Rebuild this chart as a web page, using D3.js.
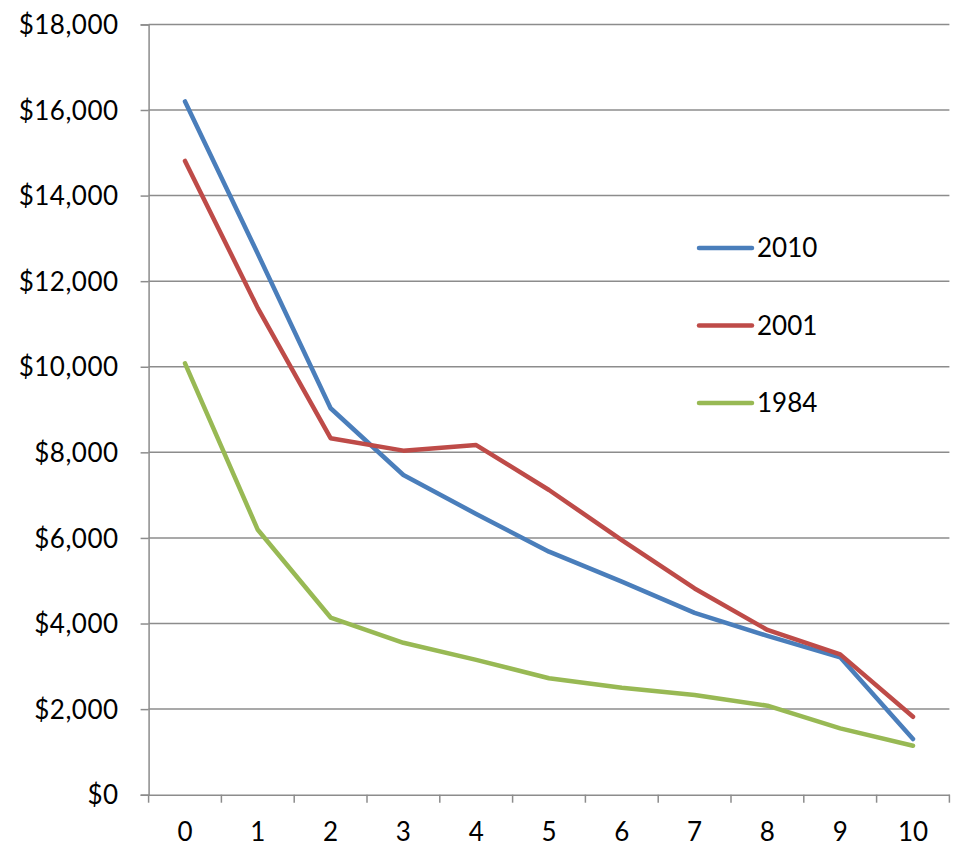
<!DOCTYPE html>
<html>
<head>
<meta charset="utf-8">
<script src="https://cdn.jsdelivr.net/npm/d3@7"></script>
<style>
  html, body { margin: 0; padding: 0; background: #fff; }
  svg text { font-family: Lato, "Open Sans", sans-serif; fill: #000; }
</style>
</head>
<body>
<svg id="chart" width="961" height="848"></svg>
<script>
const categories = ["0","1","2","3","4","5","6","7","8","9","10"];
const series2010 = [16200, 12640, 9030, 7470, 6560, 5680, 4980, 4250, 3710, 3210, 1300];
const series2001 = [14810, 11370, 8330, 8040, 8170, 7120, 5950, 4820, 3850, 3280, 1820];
const series1984 = [10080, 6190, 4140, 3550, 3150, 2720, 2500, 2330, 2080, 1550, 1145];
const seriesNames = ["2010", "2001", "1984"];
const seriesColors = ["#4A7EBB", "#BE4B48", "#98B954"];
const yTicks = [0, 2000, 4000, 6000, 8000, 10000, 12000, 14000, 16000, 18000];

(function () {
const seriesData = [series2010, series2001, series1984];

const svg = d3.select("#chart");
const pLeft = 148.6, pRight = 949.4, pTop = 24.4, pBottom = 794.7;

const x = d3.scaleBand().domain(categories).range([pLeft, pRight]).padding(0);
const y = d3.scaleLinear().domain([0, 18000]).range([pBottom, pTop]);

// gridlines
svg.append("g").selectAll("line").data(yTicks.filter(d => d > 0)).join("line")
  .attr("x1", pLeft).attr("x2", pRight)
  .attr("y1", d => y(d)).attr("y2", d => y(d))
  .attr("stroke", "#8c8c8c").attr("stroke-width", 1.5);

// y axis
const fmt = d => "$" + d3.format(",")(d);
const yAxis = svg.append("g").attr("transform", `translate(${pLeft},0)`)
  .call(d3.axisLeft(y).tickValues(yTicks).tickFormat(fmt).tickSize(8).tickPadding(22));
yAxis.select(".domain").attr("stroke", "#8c8c8c").attr("stroke-width", 1.5);
yAxis.selectAll(".tick line").attr("stroke", "#8c8c8c").attr("stroke-width", 1.5);
yAxis.selectAll(".tick text").attr("font-size", 26).attr("letter-spacing", 0.5)
  .attr("font-family", "Lato, sans-serif").attr("dy", "0.35em");

// x axis
const xAxis = svg.append("g").attr("transform", `translate(0,${pBottom})`)
  .call(d3.axisBottom(x).tickSize(0).tickPadding(28));
xAxis.select(".domain").attr("stroke", "#8c8c8c").attr("stroke-width", 1.5);
xAxis.selectAll(".tick text").attr("font-size", 26).attr("font-family", "Lato, sans-serif");
const boundaries = categories.map(c => x(c)).concat([pRight]);
xAxis.append("g").selectAll("line").data(boundaries).join("line")
  .attr("x1", d => d).attr("x2", d => d).attr("y1", 0).attr("y2", 8)
  .attr("stroke", "#8c8c8c").attr("stroke-width", 1.5);

// lines
const line = d3.line()
  .x((d, i) => x(categories[i]) + x.bandwidth() / 2)
  .y(d => y(d));

svg.append("g").selectAll("path").data(seriesData).join("path")
  .attr("d", d => line(d))
  .attr("fill", "none")
  .attr("stroke", (d, i) => seriesColors[i])
  .attr("stroke-width", 4.5)
  .attr("stroke-linejoin", "round")
  .attr("stroke-linecap", "round");

// legend
const legend = svg.append("g");
const legendY = [248, 325.5, 403];
seriesNames.forEach((name, i) => {
  legend.append("line")
    .attr("x1", 699).attr("x2", 752)
    .attr("y1", legendY[i]).attr("y2", legendY[i])
    .attr("stroke", seriesColors[i]).attr("stroke-width", 4.5)
    .attr("stroke-linecap", "round");
  legend.append("text")
    .attr("x", 757).attr("y", legendY[i]).attr("dy", "0.35em")
    .attr("font-size", 26)
    .text(name);
});
})();
</script>
</body>
</html>
